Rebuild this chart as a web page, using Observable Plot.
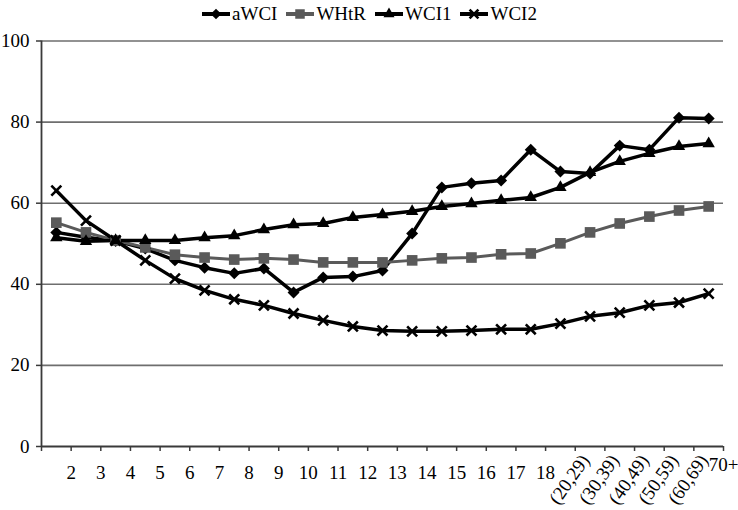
<!DOCTYPE html>
<html><head><meta charset="utf-8">
<script src="https://cdn.jsdelivr.net/npm/d3@7"></script>
<script src="https://cdn.jsdelivr.net/npm/@observablehq/plot@0.6"></script>
<style>
body{margin:0;background:#fff;font-family:"Liberation Serif","Times New Roman",serif;}
#legend{height:28px;display:flex;justify-content:center;align-items:center;font-size:19px;color:#000;padding-left:0px;}
.item{display:flex;align-items:center;margin:0 4px;}
.item svg{display:block;margin-right:1px;}
</style></head><body>
<div id="legend"></div><div id="chart"></div>
<script>
const categories = ["2","3","4","5","6","7","8","9","10","11","12","13","14","15","16","17","18","(20,29)","(30,39)","(40,49)","(50,59)","(60,69)","70+"];
const aWCI = [52.8,51.6,50.7,48.8,45.9,44.1,42.7,43.9,38.0,41.7,41.9,43.4,52.5,63.9,64.9,65.6,73.2,67.8,67.3,74.2,73.2,81.1,80.9];
const WHtR = [55.2,52.8,50.8,49.1,47.3,46.6,46.1,46.4,46.1,45.4,45.4,45.4,45.9,46.4,46.6,47.4,47.6,50.1,52.8,55.0,56.7,58.2,59.2];
const WCI1 = [51.5,50.6,50.8,50.8,50.8,51.5,52.0,53.5,54.7,55.0,56.5,57.2,58.0,59.2,59.9,60.7,61.4,63.9,67.6,70.3,72.3,74.0,74.7];
const WCI2 = [63.1,55.7,50.8,45.9,41.4,38.5,36.3,34.8,32.8,31.1,29.6,28.6,28.4,28.4,28.6,28.9,28.9,30.3,32.1,33.0,34.8,35.5,37.7];
const yTicks = [0,20,40,60,80,100];

const series = [
  {name:"aWCI", values:aWCI, color:"#000", symbol:"diamond2", r:5.4, fill:true, sw:3.5},
  {name:"WHtR", values:WHtR, color:"#5a5a5a", symbol:"square", r:6, fill:true, sw:3},
  {name:"WCI1", values:WCI1, color:"#000", symbol:"triangle", r:4.6, fill:true, sw:3.5},
  {name:"WCI2", values:WCI2, color:"#000", symbol:"times", r:4.6, fill:false, sw:3.5}
];

const n = categories.length;
const rows = s => s.values.map((v,i)=>({x:i+0.5, y:v, series:s.name}));
const rotIdx = d3.range(18,23);

const marks = [
  Plot.gridY(yTicks.filter(d=>d>0), {stroke:"#6e6e6e", strokeOpacity:1, strokeWidth:1.6}),
  Plot.ruleY([0], {stroke:"#3a3a3a", strokeWidth:1.8}),
  Plot.ruleX([0], {stroke:"#3a3a3a", strokeWidth:1.8}),
  Plot.axisY({ticks:yTicks, tickSize:5, tickPadding:7, stroke:"#3a3a3a", label:null, fontSize:19, strokeWidth:1.5}),
  Plot.axisX({ticks:d3.range(0,n+1), tickSize:5, tickFormat:()=>"", label:null, stroke:"#3a3a3a", strokeWidth:1.5}),
  Plot.axisX({ticks:d3.range(1,18), tickSize:0, tickPadding:19, tickFormat:i=>categories[i-1], label:null, fontSize:19}),
  Plot.text(rotIdx, {x:d=>d, text:d=>categories[d-1], frameAnchor:"bottom", rotate:-55, textAnchor:"end", lineAnchor:"top", dy:6, dx:4, fontSize:19}),
  Plot.axisX({ticks:[23], tickSize:0, tickPadding:11, tickFormat:i=>categories[i-1], label:null, fontSize:19})
];
for (const s of series) {
  marks.push(Plot.line(rows(s), {x:"x", y:"y", stroke:s.color, strokeWidth:s.sw}));
}
for (const s of series) {
  marks.push(Plot.dot(rows(s), s.fill
    ? {x:"x", y:"y", symbol:()=>s.symbol, r:s.r, fill:s.color, stroke:"none"}
    : {x:"x", y:"y", symbol:()=>s.symbol, r:s.r, stroke:s.color, strokeWidth:2.6}));
}

const chart = Plot.plot({
  width:738, height:482,
  marginTop:12.5, marginBottom:64, marginLeft:41, marginRight:15,
  x:{domain:[0,n], axis:null},
  y:{domain:[0,100], axis:null},
  symbol:{type:"identity"},
  style:{fontFamily:"'Liberation Serif','Times New Roman',serif", fontSize:"19px", color:"#000", background:"#fff"},
  marks
});
document.getElementById("chart").appendChild(chart);

// legend
const leg = d3.select("#legend");
const symMap = {diamond2:d3.symbolDiamond2, square:d3.symbolSquare, triangle:d3.symbolTriangle, times:d3.symbolTimes};
for (const s of series) {
  const it = leg.append("div").attr("class","item");
  const sv = it.append("svg").attr("width",30).attr("height",16);
  sv.append("line").attr("x1",1).attr("x2",29).attr("y1",8).attr("y2",8).attr("stroke",s.color).attr("stroke-width",4);
  const p = sv.append("path").attr("transform","translate(15,8)").attr("d", d3.symbol(symMap[s.symbol], Math.PI*s.r*s.r*0.8)());
  if (s.fill) p.attr("fill", s.color); else p.attr("fill","none").attr("stroke",s.color).attr("stroke-width",2.6);
  it.append("span").text(s.name);
}
</script>
</body></html>
